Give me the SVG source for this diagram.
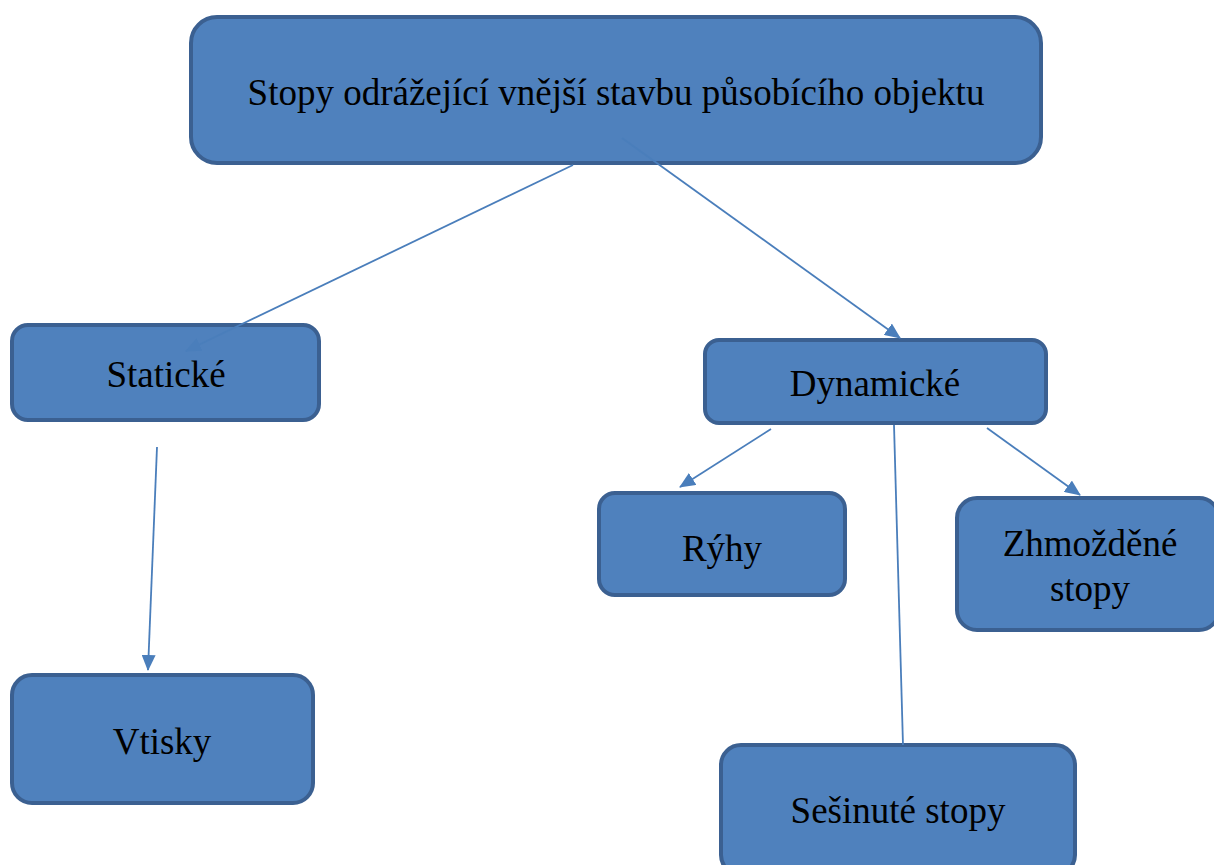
<svg xmlns="http://www.w3.org/2000/svg" width="1214" height="865" viewBox="0 0 1214 865">
<style>
.box{fill:#4f81bd;stroke:#3b6091;stroke-width:4}
.lbl{font-family:"Liberation Serif","Times New Roman",serif;font-size:37px;fill:#000;text-anchor:middle}
.con{stroke:#4a7ebb;stroke-width:1.8;fill:none}
</style>
<defs>
<marker id="ah" viewBox="0 0 16 14" refX="15" refY="7" markerWidth="16" markerHeight="14" markerUnits="userSpaceOnUse" orient="auto">
<path d="M0,0 L16,7 L0,14 Z" fill="#4a7ebb"/>
</marker>
</defs>
<rect width="1214" height="865" fill="#fff"/>
<g id="n-root"><rect class="box" x="191" y="17" width="850" height="146" rx="26"/><text class="lbl" x="616" y="105">Stopy odrážející vnější stavbu působícího objektu</text></g>
<g id="n-staticke"><rect class="box" x="12" y="325" width="307" height="95" rx="16"/><text class="lbl" x="166" y="387">Statické</text></g>
<g id="n-dynamicke"><rect class="box" x="705" y="340" width="341" height="83" rx="14"/><text class="lbl" x="875" y="396">Dynamické</text></g>
<g id="n-ryhy"><rect class="box" x="599" y="493" width="246" height="102" rx="16"/><text class="lbl" x="722" y="561">Rýhy</text></g>
<g id="n-zhmozdene"><rect class="box" x="957" y="498" width="262" height="132" rx="20"/><text class="lbl" x="1090" y="556">Zhmožděné</text><text class="lbl" x="1090" y="601">stopy</text></g>
<g id="n-vtisky"><rect class="box" x="12" y="675" width="301" height="128" rx="20"/><text class="lbl" x="162" y="754">Vtisky</text></g>
<g id="n-sesinute"><rect class="box" x="721" y="745" width="354" height="130" rx="20"/><text class="lbl" x="898" y="823">Sešinuté stopy</text></g>
<g id="connectors">
<line class="con" x1="573" y1="165" x2="186" y2="351" marker-end="url(#ah)"/>
<line class="con" x1="622" y1="138" x2="900" y2="338" marker-end="url(#ah)"/>
<line class="con" x1="771" y1="429" x2="680" y2="487" marker-end="url(#ah)"/>
<line class="con" x1="987" y1="428" x2="1080" y2="495" marker-end="url(#ah)"/>
<line class="con" x1="157" y1="447" x2="148" y2="670" marker-end="url(#ah)"/>
<line class="con" x1="894" y1="425" x2="903" y2="745"/>
</g>
</svg>
